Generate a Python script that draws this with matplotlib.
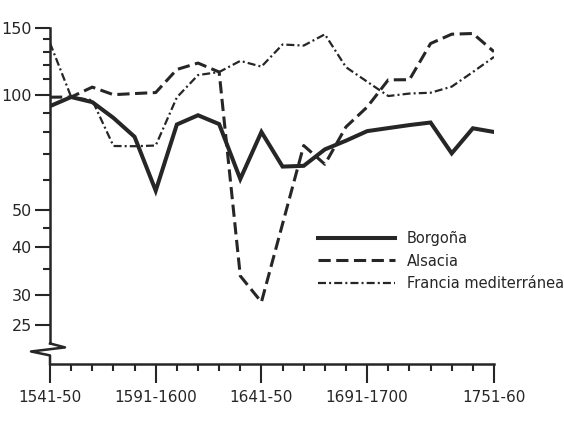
import numpy as np
import matplotlib
matplotlib.use("Agg")
from matplotlib import pyplot as plt
from matplotlib.ticker import FixedLocator, FixedFormatter, NullFormatter
import matplotlib.transforms as mtransforms

# decenios 1541-50 ... 1751-60
decenios = ['1541-50', '1551-60', '1561-70', '1571-80', '1581-90', '1591-1600',
            '1601-10', '1611-20', '1621-30', '1631-40', '1641-50', '1651-60',
            '1661-70', '1671-80', '1681-90', '1691-1700', '1701-10', '1711-20',
            '1721-30', '1731-40', '1741-50', '1751-60']
etiquetas_x = ['1541-50', '1591-1600', '1641-50', '1691-1700', '1751-60']

# valores (escala logaritmica)
borgona = [93.6, 98.9, 95.9, 87.2, 77.8, 56.2, 83.8, 88.6, 84.0, 60.3, 80.1,
           65.0, 65.3, 72.1, 76.0, 80.5, 82.0, 83.5, 84.8, 70.4, 81.9, 80.1]
alsacia = [98.8, 98.9, 105.0, 100.3, 101.0, 101.6, 116.8, 121.4, 115.0, 33.6, 28.7,
           46.0, 73.8, 65.9, 82.6, 93.1, 109.7, 109.8, 136.6, 144.5, 145.1, 130.0]
francia = [137.0, 99.0, 97.0, 73.6, 73.5, 73.8, 98.7, 112.9, 115.0, 123.0, 118.8,
           135.8, 134.9, 144.4, 118.4, 108.5, 99.5, 101.0, 101.5, 105.3, 115.0, 126.0]

ticks_y = [25, 30, 40, 50, 100, 150]
ticks_y_menores = [35, 45, 60, 70, 80, 90, 110, 120, 130, 140]

color = '#262626'
x = np.arange(len(decenios))

fig = plt.figure(figsize=(5.64, 4.24), dpi=100)
ax = fig.add_axes([50/564, 1 - 364/424, 444/564, 336/424])

ax.plot(x, borgona, color=color, lw=2.9, solid_joinstyle='miter', label='Borgoña')
ax.plot(x, alsacia, color=color, lw=2.2, linestyle=(0, (4, 1.8)), label='Alsacia')
ax.plot(x, francia, color=color, lw=1.6, linestyle=(0, (3.6, 1.4, 0.9, 1.4)),
        label='Francia mediterránea')

ax.set_yscale('log')
ax.set_ylim(19.75, 150)
ax.set_xlim(0, 21)

ax.yaxis.set_major_locator(FixedLocator(ticks_y))
ax.yaxis.set_major_formatter(FixedFormatter([str(t) for t in ticks_y]))
ax.yaxis.set_minor_locator(FixedLocator(ticks_y_menores))
ax.yaxis.set_minor_formatter(NullFormatter())

pos_x = [decenios.index(e) for e in etiquetas_x]
ax.xaxis.set_major_locator(FixedLocator(pos_x))
ax.xaxis.set_major_formatter(FixedFormatter(etiquetas_x))
ax.xaxis.set_minor_locator(FixedLocator(x))

ax.tick_params(axis='both', which='major', direction='out', color=color,
               width=1.5, labelcolor=color, labelsize=11)
ax.tick_params(axis='y', which='major', length=11, pad=2, labelsize=11.5)
ax.tick_params(axis='x', which='major', length=14, pad=5)
ax.tick_params(axis='both', which='minor', direction='out', length=5,
               width=1.5, color=color)

for s in ['top', 'right']:
    ax.spines[s].set_visible(False)
for s in ['left', 'bottom']:
    ax.spines[s].set_linewidth(1.8)
    ax.spines[s].set_color(color)

# corte del eje vertical
ax.spines['left'].set_bounds(22.36, 150)
trans = mtransforms.blended_transform_factory(ax.transAxes, ax.transData)
px = 1 / 444
ax.plot([0, 15*px, -19*px, 0, 0], [22.36, 21.83, 21.3, 20.8, 19.75],
        color=color, lw=1.8, transform=trans, clip_on=False)

ax.legend(loc='upper left', bbox_to_anchor=(318/564, 1 - 231/424),
          bbox_transform=fig.transFigure, frameon=False, fontsize=10.5,
          handlelength=5.3, handletextpad=0.8, labelspacing=0.52,
          borderpad=0, borderaxespad=0, labelcolor=color)

fig.savefig('out.png', dpi=100)
